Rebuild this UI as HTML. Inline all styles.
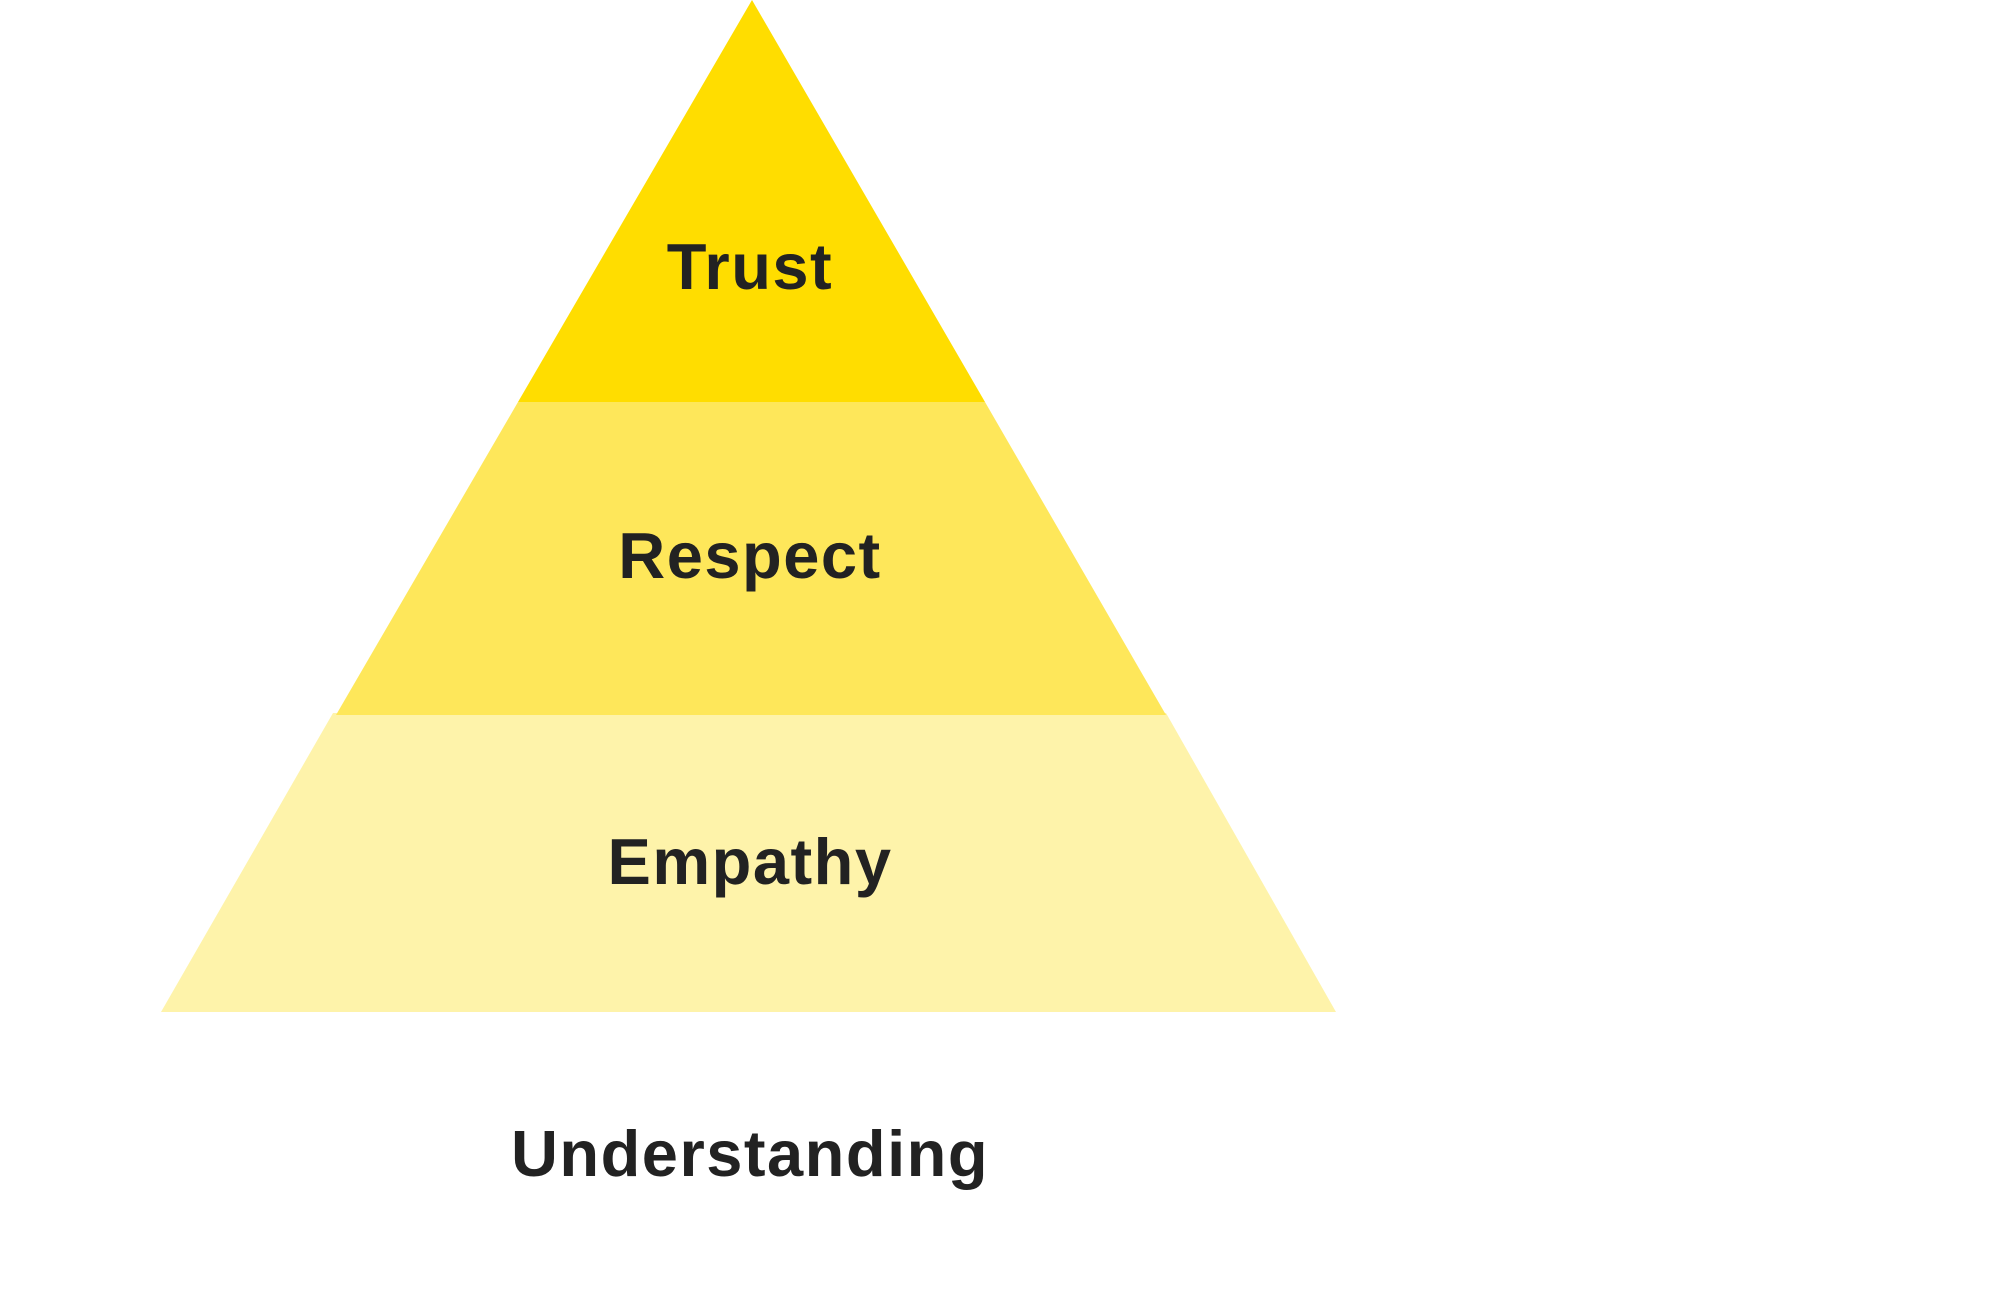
<!DOCTYPE html>
<html><head><meta charset="utf-8"><style>
html,body{margin:0;padding:0;background:#fff;width:2000px;height:1299px;overflow:hidden}
svg text{font-family:"Liberation Sans",sans-serif;font-weight:bold;font-size:65px;fill:#222;text-anchor:middle;letter-spacing:1.5px}
</style></head><body>
<svg width="2000" height="1299" viewBox="0 0 2000 1299" xmlns="http://www.w3.org/2000/svg">
<polygon points="333,713 1166,713 1336,1012 161,1012" fill="#FEF3AA"/>
<polygon points="518,402 985,402 1166,715 336,715" fill="#FEE75A"/>
<polygon points="752,0 985,402 518,402" fill="#FFDD00"/>
<text x="750" y="289">Trust</text>
<text x="750" y="578">Respect</text>
<text x="750" y="884">Empathy</text>
<text x="750" y="1176">Understanding</text>
</svg>
</body></html>
